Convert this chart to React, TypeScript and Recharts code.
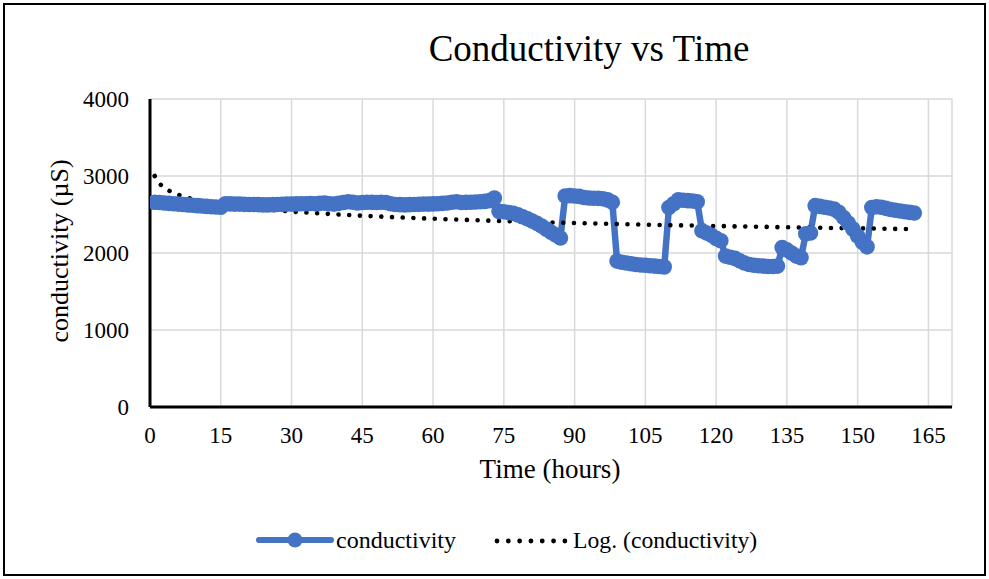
import {
  Line,
  LineChart,
  XAxis,
  YAxis,
  CartesianGrid,
  Legend,
} from "recharts";

// measured conductivity (µS), one reading per hour
const hours = [
  1, 2, 3, 4, 5, 6, 7, 8, 9, 10, 11, 12, 13, 14, 15, 16, 17, 18, 19, 20,
  21, 22, 23, 24, 25, 26, 27, 28, 29, 30, 31, 32, 33, 34, 35, 36, 37, 38, 39, 40,
  41, 42, 43, 44, 45, 46, 47, 48, 49, 50, 51, 52, 53, 54, 55, 56, 57, 58, 59, 60,
  61, 62, 63, 64, 65, 66, 67, 68, 69, 70, 71, 72, 73, 74, 75, 76, 77, 78, 79, 80,
  81, 82, 83, 84, 85, 86, 87, 88, 89, 90, 91, 92, 93, 94, 95, 96, 97, 98, 99, 100,
  101, 102, 103, 104, 105, 106, 107, 108, 109, 110, 111, 112, 113, 114, 115, 116, 117, 118, 119, 120,
  121, 122, 123, 124, 125, 126, 127, 128, 129, 130, 131, 132, 133, 134, 135, 136, 137, 138, 139, 140,
  141, 142, 143, 144, 145, 146, 147, 148, 149, 150, 151, 152, 153, 154, 155, 156, 157, 158, 159, 160,
  161, 162,
];

const conductivity = [
  2660, 2655, 2650, 2645, 2640, 2635, 2630, 2625, 2620, 2615, 2610, 2605, 2600, 2598, 2595,
  2640, 2638, 2635, 2635, 2632, 2630, 2630, 2628, 2625, 2625, 2628, 2630, 2632, 2635, 2635,
  2638, 2640, 2640, 2642, 2640, 2645, 2648, 2640, 2635, 2645, 2655, 2665, 2660, 2650, 2655,
  2660, 2658, 2655, 2660, 2655, 2640, 2630, 2628, 2625, 2628, 2630, 2632, 2635, 2635, 2638,
  2640, 2645, 2650, 2660, 2665, 2655, 2658, 2660, 2662, 2665, 2670, 2680, 2715,
  2540, 2535, 2525, 2515, 2495, 2470, 2445, 2415, 2385, 2350, 2310, 2270, 2235, 2195,
  2740, 2745, 2740, 2735, 2720, 2715, 2712, 2710, 2705, 2690, 2660, 1895,
  1880, 1870, 1860, 1850, 1845, 1840, 1835, 1830, 1825, 1820,
  2590, 2640, 2690, 2685, 2680, 2675, 2665, 2290, 2260, 2230, 2190, 2160, 1960,
  1945, 1930, 1900, 1870, 1850, 1840, 1835, 1830, 1825, 1825, 1830,
  2070, 2040, 2000, 1960, 1940, 2250, 2260,
  2615, 2605, 2595, 2585, 2570, 2530, 2460, 2390, 2310, 2220, 2140, 2080,
  2590, 2600, 2595, 2580, 2565, 2555, 2545, 2535, 2528, 2520,
];

// log trendline
const trendHours = [1, 2, 3, 5, 8, 12, 18, 25, 35, 50, 70, 95, 125, 162];
const trendValues = [3000, 2905, 2850, 2780, 2718, 2663, 2608, 2563, 2518, 2470, 2424, 2382, 2345, 2310];

const xTicks = [0, 15, 30, 45, 60, 75, 90, 105, 120, 135, 150, 165];
const yTicks = [0, 1000, 2000, 3000, 4000];

const BLUE = "#4472C4";
const FONT = "'Liberation Serif', 'Times New Roman', serif";

const condData = hours.map((h, i) => ({ h, v: conductivity[i] }));
const trendData = trendHours.map((h, i) => ({ h, t: trendValues[i] }));

function LegendBox() {
  return (
    <svg width={989} height={40} style={{ display: "block", overflow: "visible" }}>
      <line x1={259} x2={331} y1={20} y2={20} stroke={BLUE} strokeWidth={6} strokeLinecap="round" />
      <circle cx={295} cy={20} r={7.5} fill={BLUE} />
      <text x={336} y={28} fontSize={24} fontFamily={FONT} fill="#000">
        conductivity
      </text>
      <line
        x1={497}
        x2={565}
        y1={21}
        y2={21}
        stroke="#000"
        strokeWidth={4.8}
        strokeLinecap="round"
        strokeDasharray="0.01 11.3"
      />
      <text x={573} y={28} fontSize={23.7} fontFamily={FONT} fill="#000">
        Log. (conductivity)
      </text>
    </svg>
  );
}

export default function App() {
  return (
    <div
      style={{
        position: "absolute",
        left: 0,
        top: 0,
        width: 989,
        height: 579,
        background: "#fff",
        fontFamily: FONT,
      }}
    >
      <LineChart
        width={989}
        height={579}
        margin={{ top: 99, right: 37, bottom: 142, left: 1 }}
      >
        <CartesianGrid stroke="#d9d9d9" strokeWidth={1.5} />
        <XAxis
          type="number"
          dataKey="h"
          domain={[0, 170]}
          ticks={xTicks}
          allowDataOverflow
          height={30}
          tickLine={false}
          tickSize={0}
          tickMargin={20}
          axisLine={{ stroke: "#000", strokeWidth: 3 }}
          tick={{ fill: "#000", fontSize: 23, fontFamily: FONT }}
        />
        <YAxis
          type="number"
          domain={[0, 4000]}
          ticks={yTicks}
          width={149}
          tickLine={false}
          tickSize={0}
          tickMargin={21}
          axisLine={{ stroke: "#000", strokeWidth: 3 }}
          tick={{ fill: "#000", fontSize: 23, fontFamily: FONT }}
        />
        <Line
          data={condData}
          dataKey="v"
          type="linear"
          stroke={BLUE}
          strokeWidth={6.5}
          dot={{ r: 7.8, fill: BLUE, stroke: BLUE, strokeWidth: 0 }}
          activeDot={false}
          isAnimationActive={false}
        />
        <Line
          data={trendData}
          dataKey="t"
          type="monotone"
          stroke="#000"
          strokeWidth={4.6}
          strokeLinecap="round"
          strokeDasharray="0.01 10.7"
          dot={false}
          activeDot={false}
          isAnimationActive={false}
        />
        <Legend
          layout="horizontal"
          verticalAlign="middle"
          align="center"
          wrapperStyle={{ position: "absolute", left: 0, top: 520, width: 989 }}
          content={() => <LegendBox />}
        />
        <text x={589} y={61} textAnchor="middle" fontSize={37} fontFamily={FONT} fill="#000">
          Conductivity vs Time
        </text>
        <text x={550} y={478} textAnchor="middle" fontSize={27} fontFamily={FONT} fill="#000">
          Time (hours)
        </text>
        <text
          x={68}
          y={251}
          transform="rotate(-90, 68, 251)"
          textAnchor="middle"
          fontSize={26}
          fontFamily={FONT}
          fill="#000"
        >
          conductivity (µS)
        </text>
      </LineChart>
      <div
        style={{
          position: "absolute",
          left: 3,
          top: 3,
          width: 983,
          height: 573,
          border: "2.5px solid #000",
          boxSizing: "border-box",
          pointerEvents: "none",
        }}
      />
    </div>
  );
}
